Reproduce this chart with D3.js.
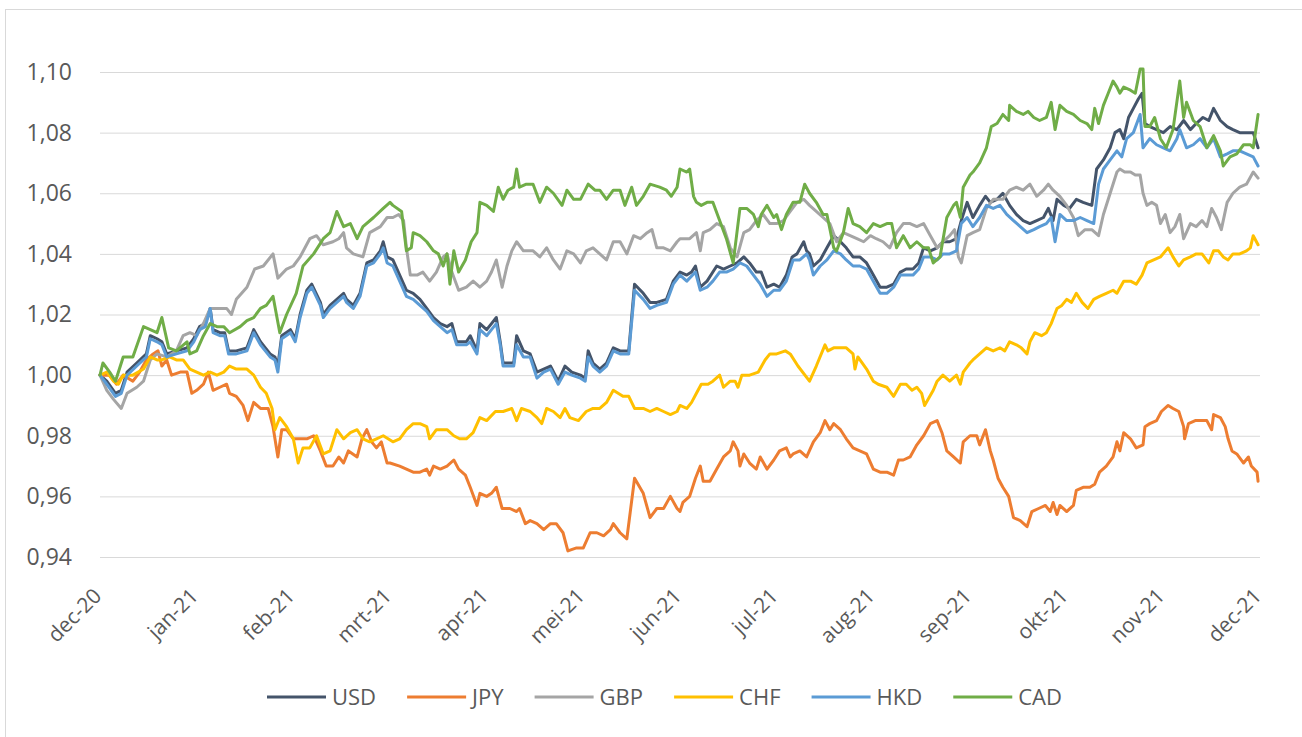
<!DOCTYPE html>
<html>
<head>
<meta charset="utf-8">
<script src="https://cdn.jsdelivr.net/npm/d3@7"></script>
<style>
  body { margin: 0; background: #fff; }
  svg { display: block; font-family: "Open Sans", "DejaVu Sans", sans-serif; }
</style>
</head>
<body>
<svg id="chart"></svg>
<script>
// months since dec-20, value index (dec-20 = 1)
var months = ["dec-20","jan-21","feb-21","mrt-21","apr-21","mei-21","jun-21","jul-21","aug-21","sep-21","okt-21","nov-21","dec-21"];
var yTicks = [0.94, 0.96, 0.98, 1.00, 1.02, 1.04, 1.06, 1.08, 1.10];
var names = ["USD","JPY","GBP","CHF","HKD","CAD"];
var colors = ["#44546A","#ED7D31","#A5A5A5","#FFC000","#5B9BD5","#70AD47"];

var usd = [[0,1.000],[0.07,0.998],[0.16,0.994],[0.22,0.995],[0.28,1.001],[0.38,1.004],[0.48,1.007],[0.52,1.013],[0.59,1.012],[0.64,1.011],[0.69,1.007],[0.79,1.008],[0.90,1.009],[0.97,1.012],[1.03,1.016],[1.09,1.017],[1.14,1.022],[1.17,1.015],[1.24,1.014],[1.29,1.014],[1.33,1.008],[1.41,1.008],[1.52,1.009],[1.59,1.015],[1.66,1.011],[1.76,1.007],[1.81,1.006],[1.84,1.003],[1.88,1.013],[1.97,1.015],[2.02,1.012],[2.07,1.020],[2.14,1.028],[2.19,1.030],[2.28,1.024],[2.31,1.020],[2.38,1.023],[2.45,1.025],[2.52,1.027],[2.55,1.025],[2.62,1.023],[2.69,1.027],[2.76,1.037],[2.83,1.038],[2.90,1.041],[2.93,1.044],[2.97,1.039],
  [3.03,1.038],[3.10,1.033],[3.17,1.028],[3.24,1.027],[3.31,1.025],[3.38,1.022],[3.45,1.019],[3.52,1.017],[3.59,1.016],[3.64,1.017],[3.69,1.011],[3.79,1.011],[3.83,1.013],[3.90,1.008],[3.93,1.017],[4.00,1.015],[4.05,1.017],[4.10,1.019],[4.14,1.011],[4.17,1.004],[4.28,1.004],[4.31,1.013],[4.38,1.008],[4.45,1.007],[4.52,1.001],[4.59,1.002],[4.66,1.003],[4.74,0.998],[4.81,1.003],[4.88,1.001],[4.97,1.000],[5.02,0.999],[5.05,1.008],[5.10,1.004],[5.17,1.002],[5.24,1.004],[5.31,1.009],[5.38,1.008],[5.47,1.008],[5.53,1.030],[5.62,1.027],[5.69,1.024],[5.76,1.024],[5.86,1.025],[5.93,1.031],
  [6.00,1.034],[6.07,1.033],[6.12,1.034],[6.16,1.036],[6.21,1.029],[6.28,1.031],[6.34,1.034],[6.38,1.036],[6.45,1.035],[6.52,1.036],[6.59,1.037],[6.66,1.039],[6.72,1.037],[6.79,1.034],[6.84,1.034],[6.90,1.029],[6.97,1.030],[7.03,1.029],[7.10,1.033],[7.16,1.039],[7.21,1.040],[7.28,1.044],[7.31,1.041],[7.34,1.040],[7.38,1.036],[7.45,1.038],[7.52,1.042],[7.59,1.046],[7.66,1.044],[7.72,1.042],[7.79,1.039],[7.86,1.039],[7.93,1.037],[8.00,1.033],[8.07,1.029],[8.14,1.029],[8.21,1.030],[8.28,1.034],[8.34,1.035],[8.41,1.035],[8.47,1.037],[8.52,1.042],[8.59,1.041],[8.66,1.042],[8.72,1.044],[8.79,1.044],[8.86,1.045],[8.91,1.051],[8.97,1.057],
  [9.03,1.052],[9.10,1.056],[9.16,1.059],[9.21,1.057],[9.28,1.058],[9.34,1.060],[9.41,1.056],[9.48,1.053],[9.55,1.051],[9.62,1.050],[9.69,1.051],[9.76,1.052],[9.81,1.055],[9.86,1.051],[9.90,1.058],[9.97,1.056],[10.03,1.055],[10.10,1.058],[10.17,1.057],[10.26,1.056],[10.31,1.068],[10.38,1.071],[10.45,1.075],[10.50,1.080],[10.55,1.081],[10.59,1.078],[10.64,1.085],[10.69,1.088],[10.74,1.091],[10.78,1.093],[10.81,1.083],[10.86,1.082],[10.93,1.081],[11.00,1.080],[11.07,1.082],[11.14,1.081],[11.21,1.084],[11.28,1.081],[11.34,1.083],[11.41,1.085],[11.47,1.084],[11.52,1.088],[11.59,1.084],[11.66,1.082],[11.72,1.081],[11.79,1.080],[11.86,1.080],[11.93,1.080],[11.98,1.075]];

var jpy = [[0,1.000],[0.10,1.000],[0.17,0.997],[0.24,1.000],[0.34,0.998],[0.41,1.001],[0.48,1.005],[0.55,1.007],[0.60,1.008],[0.64,1.003],[0.69,1.005],[0.74,1.000],[0.83,1.001],[0.90,1.001],[0.95,0.994],[1.00,0.995],[1.07,0.997],[1.12,1.001],[1.17,0.995],[1.24,0.996],[1.31,0.997],[1.34,0.994],[1.41,0.993],[1.48,0.990],[1.53,0.985],[1.59,0.991],[1.66,0.989],[1.74,0.989],[1.79,0.983],[1.84,0.973],[1.88,0.982],[1.93,0.982],[2.00,0.979],[2.07,0.979],[2.14,0.979],[2.21,0.980],[2.28,0.975],[2.34,0.970],[2.41,0.970],[2.47,0.973],[2.52,0.971],[2.57,0.975],[2.66,0.973],[2.71,0.979],[2.76,0.982],[2.81,0.978],[2.86,0.976],[2.91,0.978],[2.97,0.971],
  [3.00,0.971],[3.10,0.970],[3.17,0.969],[3.24,0.968],[3.31,0.968],[3.38,0.969],[3.41,0.967],[3.45,0.970],[3.52,0.969],[3.59,0.970],[3.66,0.972],[3.71,0.969],[3.78,0.967],[3.83,0.963],[3.90,0.957],[3.93,0.961],[4.00,0.960],[4.05,0.961],[4.10,0.963],[4.16,0.956],[4.24,0.956],[4.31,0.955],[4.34,0.956],[4.40,0.951],[4.45,0.952],[4.52,0.951],[4.59,0.949],[4.66,0.951],[4.72,0.951],[4.79,0.948],[4.84,0.942],[4.93,0.943],[5.00,0.943],[5.07,0.948],[5.14,0.948],[5.21,0.947],[5.28,0.949],[5.31,0.951],[5.38,0.948],[5.45,0.946],[5.53,0.966],[5.62,0.961],[5.69,0.953],[5.76,0.956],[5.83,0.956],[5.90,0.960],[5.97,0.956],
  [6.00,0.955],[6.03,0.958],[6.10,0.960],[6.16,0.966],[6.21,0.970],[6.24,0.965],[6.31,0.965],[6.38,0.969],[6.45,0.973],[6.52,0.975],[6.55,0.978],[6.60,0.975],[6.62,0.970],[6.66,0.974],[6.72,0.971],[6.79,0.969],[6.83,0.973],[6.90,0.969],[6.97,0.972],[7.03,0.975],[7.10,0.976],[7.14,0.973],[7.17,0.974],[7.24,0.975],[7.31,0.973],[7.38,0.978],[7.45,0.981],[7.50,0.985],[7.55,0.982],[7.59,0.984],[7.66,0.982],[7.72,0.979],[7.79,0.976],[7.86,0.975],[7.93,0.974],[8.00,0.969],[8.07,0.968],[8.14,0.968],[8.21,0.967],[8.26,0.972],[8.31,0.972],[8.38,0.973],[8.45,0.977],[8.52,0.980],[8.59,0.984],[8.66,0.985],[8.71,0.981],[8.76,0.975],[8.83,0.973],[8.90,0.971],[8.93,0.978],[9.00,0.980],
  [9.07,0.980],[9.10,0.977],[9.16,0.982],[9.21,0.975],[9.24,0.972],[9.29,0.966],[9.34,0.963],[9.40,0.960],[9.45,0.953],[9.52,0.952],[9.59,0.950],[9.64,0.955],[9.71,0.956],[9.78,0.957],[9.83,0.955],[9.86,0.958],[9.90,0.954],[9.93,0.957],[10.00,0.955],[10.07,0.957],[10.10,0.962],[10.17,0.963],[10.24,0.963],[10.29,0.964],[10.34,0.968],[10.41,0.970],[10.48,0.973],[10.52,0.978],[10.55,0.975],[10.59,0.981],[10.66,0.979],[10.72,0.976],[10.79,0.977],[10.81,0.983],[10.86,0.984],[10.93,0.985],[10.98,0.988],[11.05,0.990],[11.10,0.989],[11.16,0.988],[11.21,0.983],[11.22,0.979],[11.26,0.984],[11.33,0.985],[11.40,0.985],[11.45,0.985],[11.50,0.982],[11.52,0.987],[11.59,0.986],[11.64,0.983],[11.67,0.979],[11.71,0.975],[11.76,0.974],[11.83,0.971],[11.88,0.973],[11.91,0.970],[11.97,0.968],[11.98,0.965]];

var gbp = [[0,1.000],[0.07,0.995],[0.14,0.992],[0.22,0.989],[0.28,0.994],[0.38,0.996],[0.45,0.998],[0.52,1.005],[0.59,1.007],[0.69,1.006],[0.79,1.008],[0.86,1.013],[0.93,1.014],[1.00,1.013],[1.07,1.017],[1.14,1.022],[1.21,1.022],[1.31,1.022],[1.36,1.020],[1.41,1.025],[1.52,1.029],[1.60,1.035],[1.69,1.036],[1.79,1.040],[1.84,1.032],[1.93,1.035],[2.00,1.036],[2.07,1.039],[2.17,1.045],[2.24,1.046],[2.31,1.043],[2.41,1.044],[2.47,1.045],[2.52,1.047],[2.55,1.042],[2.62,1.040],[2.72,1.039],[2.79,1.047],[2.90,1.049],[2.97,1.052],
  [3.03,1.052],[3.09,1.053],[3.14,1.051],[3.17,1.042],[3.21,1.033],[3.28,1.033],[3.34,1.034],[3.41,1.031],[3.48,1.034],[3.55,1.039],[3.59,1.040],[3.64,1.034],[3.71,1.028],[3.79,1.029],[3.86,1.031],[3.93,1.029],[4.00,1.031],[4.05,1.034],[4.10,1.038],[4.16,1.029],[4.21,1.036],[4.26,1.041],[4.31,1.044],[4.38,1.041],[4.48,1.041],[4.55,1.039],[4.62,1.042],[4.69,1.038],[4.76,1.035],[4.83,1.041],[4.90,1.040],[4.97,1.037],[5.03,1.041],[5.10,1.042],[5.17,1.040],[5.24,1.038],[5.31,1.044],[5.38,1.044],[5.45,1.040],[5.52,1.046],[5.59,1.045],[5.66,1.047],[5.71,1.048],[5.76,1.042],[5.83,1.042],[5.90,1.041],[5.97,1.044],
  [6.00,1.045],[6.10,1.045],[6.17,1.047],[6.21,1.041],[6.24,1.047],[6.31,1.048],[6.38,1.050],[6.45,1.049],[6.52,1.042],[6.59,1.039],[6.66,1.047],[6.72,1.048],[6.79,1.051],[6.86,1.053],[6.93,1.050],[7.00,1.050],[7.07,1.051],[7.14,1.054],[7.21,1.057],[7.28,1.058],[7.34,1.056],[7.41,1.054],[7.48,1.052],[7.55,1.050],[7.62,1.044],[7.69,1.047],[7.76,1.046],[7.83,1.045],[7.90,1.044],[7.97,1.046],[8.03,1.045],[8.10,1.044],[8.17,1.042],[8.24,1.047],[8.31,1.050],[8.38,1.050],[8.45,1.049],[8.52,1.050],[8.59,1.046],[8.66,1.042],[8.72,1.044],[8.79,1.046],[8.84,1.048],[8.88,1.039],[8.91,1.037],[8.97,1.046],
  [9.03,1.047],[9.10,1.048],[9.17,1.055],[9.24,1.058],[9.34,1.058],[9.41,1.061],[9.48,1.062],[9.55,1.061],[9.62,1.063],[9.69,1.059],[9.76,1.061],[9.81,1.063],[9.86,1.061],[9.93,1.059],[10.00,1.056],[10.07,1.052],[10.12,1.046],[10.19,1.048],[10.26,1.048],[10.33,1.046],[10.38,1.053],[10.45,1.060],[10.52,1.067],[10.55,1.068],[10.60,1.067],[10.66,1.067],[10.71,1.066],[10.76,1.066],[10.79,1.060],[10.83,1.056],[10.88,1.057],[10.93,1.056],[10.97,1.050],[11.02,1.053],[11.07,1.047],[11.12,1.049],[11.17,1.053],[11.21,1.045],[11.28,1.050],[11.34,1.049],[11.40,1.051],[11.45,1.049],[11.50,1.055],[11.55,1.052],[11.60,1.048],[11.66,1.057],[11.72,1.060],[11.79,1.062],[11.86,1.063],[11.93,1.067],[11.98,1.065]];

var chf = [[0,1.000],[0.07,1.001],[0.14,0.998],[0.19,0.997],[0.24,1.000],[0.34,1.000],[0.45,1.002],[0.52,1.006],[0.59,1.005],[0.64,1.005],[0.72,1.006],[0.79,1.005],[0.86,1.005],[0.93,1.002],[1.00,1.001],[1.07,1.000],[1.14,1.001],[1.21,1.000],[1.28,1.001],[1.34,1.003],[1.41,1.002],[1.52,1.002],[1.59,1.000],[1.66,0.996],[1.72,0.994],[1.78,0.989],[1.81,0.982],[1.86,0.986],[1.93,0.983],[2.00,0.979],[2.05,0.971],[2.10,0.976],[2.17,0.976],[2.24,0.980],[2.31,0.974],[2.38,0.975],[2.45,0.982],[2.52,0.979],[2.59,0.981],[2.66,0.982],[2.72,0.979],[2.79,0.978],[2.86,0.979],[2.93,0.980],
  [3.03,0.978],[3.10,0.979],[3.17,0.982],[3.24,0.984],[3.31,0.984],[3.38,0.983],[3.41,0.979],[3.48,0.982],[3.59,0.982],[3.66,0.980],[3.72,0.979],[3.79,0.979],[3.86,0.981],[3.93,0.986],[4.00,0.985],[4.09,0.988],[4.17,0.988],[4.26,0.989],[4.31,0.985],[4.36,0.989],[4.45,0.988],[4.52,0.986],[4.57,0.984],[4.62,0.989],[4.69,0.988],[4.76,0.986],[4.81,0.989],[4.86,0.986],[4.95,0.985],[5.03,0.988],[5.10,0.989],[5.17,0.989],[5.24,0.991],[5.31,0.995],[5.36,0.994],[5.41,0.993],[5.47,0.993],[5.53,0.989],[5.62,0.989],[5.69,0.988],[5.76,0.989],[5.83,0.988],[5.90,0.987],[5.97,0.988],
  [6.00,0.990],[6.07,0.989],[6.12,0.991],[6.17,0.994],[6.22,0.997],[6.29,0.997],[6.34,0.998],[6.41,1.000],[6.45,0.996],[6.52,0.998],[6.57,0.998],[6.60,0.996],[6.64,1.000],[6.72,1.000],[6.81,1.001],[6.88,1.005],[6.93,1.007],[7.00,1.007],[7.09,1.008],[7.14,1.007],[7.22,1.003],[7.34,0.998],[7.41,1.003],[7.50,1.010],[7.53,1.008],[7.59,1.009],[7.66,1.009],[7.72,1.009],[7.79,1.007],[7.81,1.002],[7.84,1.006],[7.93,1.002],[8.00,0.998],[8.05,0.997],[8.14,0.996],[8.21,0.993],[8.28,0.997],[8.34,0.997],[8.40,0.995],[8.45,0.996],[8.50,0.994],[8.53,0.990],[8.62,0.995],[8.66,0.998],[8.72,1.000],[8.79,0.998],[8.86,1.000],[8.90,0.997],[8.93,1.001],[9.00,1.004],
  [9.03,1.005],[9.10,1.007],[9.17,1.009],[9.24,1.008],[9.31,1.009],[9.36,1.008],[9.41,1.011],[9.48,1.010],[9.53,1.009],[9.59,1.007],[9.62,1.011],[9.67,1.014],[9.74,1.013],[9.79,1.014],[9.84,1.017],[9.90,1.022],[9.95,1.023],[10.00,1.025],[10.05,1.024],[10.10,1.027],[10.16,1.024],[10.22,1.022],[10.28,1.025],[10.34,1.026],[10.41,1.027],[10.48,1.028],[10.52,1.027],[10.59,1.031],[10.66,1.031],[10.72,1.030],[10.78,1.033],[10.83,1.037],[10.90,1.038],[10.97,1.039],[11.05,1.042],[11.10,1.039],[11.16,1.036],[11.21,1.038],[11.28,1.039],[11.34,1.040],[11.40,1.040],[11.47,1.037],[11.52,1.041],[11.57,1.041],[11.62,1.039],[11.67,1.038],[11.72,1.040],[11.79,1.040],[11.86,1.041],[11.90,1.042],[11.93,1.046],[11.98,1.043]];

var hkd = [[0,1.000],[0.07,0.997],[0.16,0.993],[0.22,0.994],[0.28,1.000],[0.38,1.003],[0.48,1.006],[0.52,1.012],[0.59,1.011],[0.64,1.010],[0.69,1.006],[0.79,1.007],[0.90,1.008],[0.97,1.011],[1.03,1.015],[1.09,1.016],[1.14,1.022],[1.17,1.014],[1.24,1.013],[1.29,1.013],[1.33,1.007],[1.41,1.007],[1.52,1.008],[1.59,1.014],[1.66,1.010],[1.76,1.006],[1.81,1.005],[1.84,1.001],[1.88,1.012],[1.97,1.014],[2.02,1.011],[2.07,1.019],[2.14,1.027],[2.19,1.029],[2.28,1.023],[2.31,1.019],[2.38,1.022],[2.45,1.024],[2.52,1.026],[2.55,1.024],[2.62,1.022],[2.69,1.026],[2.76,1.036],[2.83,1.037],[2.90,1.040],[2.93,1.042],[2.97,1.037],
  [3.03,1.036],[3.10,1.031],[3.17,1.026],[3.24,1.025],[3.31,1.023],[3.38,1.021],[3.45,1.018],[3.52,1.016],[3.59,1.014],[3.64,1.015],[3.69,1.010],[3.79,1.010],[3.83,1.011],[3.90,1.007],[3.93,1.015],[4.00,1.013],[4.05,1.015],[4.10,1.017],[4.14,1.010],[4.17,1.003],[4.28,1.003],[4.31,1.010],[4.38,1.006],[4.45,1.006],[4.52,0.999],[4.59,1.001],[4.66,1.002],[4.74,0.997],[4.81,1.001],[4.88,1.000],[4.97,0.999],[5.02,0.998],[5.05,1.006],[5.10,1.003],[5.17,1.001],[5.24,1.003],[5.31,1.008],[5.38,1.007],[5.47,1.007],[5.53,1.028],[5.62,1.025],[5.69,1.022],[5.76,1.023],[5.86,1.024],[5.93,1.030],
  [6.00,1.033],[6.07,1.031],[6.16,1.034],[6.21,1.028],[6.28,1.029],[6.34,1.031],[6.41,1.034],[6.48,1.034],[6.55,1.035],[6.62,1.037],[6.69,1.036],[6.76,1.033],[6.83,1.030],[6.90,1.026],[6.97,1.028],[7.03,1.028],[7.10,1.031],[7.17,1.038],[7.24,1.038],[7.31,1.040],[7.34,1.038],[7.38,1.033],[7.45,1.036],[7.52,1.038],[7.59,1.041],[7.66,1.040],[7.72,1.038],[7.79,1.036],[7.86,1.036],[7.93,1.035],[8.00,1.031],[8.07,1.027],[8.14,1.027],[8.21,1.029],[8.28,1.033],[8.34,1.033],[8.41,1.033],[8.47,1.035],[8.52,1.039],[8.59,1.039],[8.66,1.038],[8.72,1.040],[8.79,1.040],[8.86,1.041],[8.91,1.050],[8.97,1.052],
  [9.03,1.049],[9.10,1.052],[9.17,1.056],[9.24,1.055],[9.31,1.056],[9.38,1.053],[9.45,1.051],[9.52,1.049],[9.59,1.047],[9.66,1.048],[9.72,1.049],[9.79,1.050],[9.84,1.052],[9.88,1.044],[9.93,1.053],[10.00,1.051],[10.07,1.051],[10.14,1.052],[10.21,1.051],[10.28,1.050],[10.33,1.063],[10.38,1.068],[10.45,1.071],[10.52,1.074],[10.57,1.072],[10.62,1.078],[10.69,1.080],[10.76,1.086],[10.79,1.075],[10.86,1.078],[10.93,1.076],[11.00,1.075],[11.07,1.074],[11.14,1.078],[11.17,1.081],[11.24,1.075],[11.31,1.076],[11.38,1.078],[11.45,1.075],[11.52,1.078],[11.59,1.072],[11.66,1.073],[11.72,1.074],[11.79,1.074],[11.86,1.073],[11.93,1.072],[11.98,1.069]];

var cad = [[0,1.000],[0.03,1.004],[0.10,1.001],[0.16,0.998],[0.24,1.006],[0.34,1.006],[0.45,1.016],[0.59,1.014],[0.64,1.019],[0.71,1.009],[0.79,1.008],[0.90,1.011],[0.93,1.007],[1.00,1.008],[1.07,1.013],[1.14,1.017],[1.21,1.016],[1.28,1.016],[1.34,1.014],[1.45,1.016],[1.52,1.018],[1.59,1.019],[1.66,1.022],[1.72,1.023],[1.79,1.026],[1.86,1.014],[1.93,1.020],[2.03,1.027],[2.10,1.036],[2.21,1.040],[2.31,1.045],[2.38,1.047],[2.45,1.054],[2.52,1.049],[2.59,1.050],[2.66,1.045],[2.72,1.049],[2.83,1.052],[2.93,1.055],[3.00,1.057],
  [3.03,1.056],[3.12,1.054],[3.17,1.041],[3.22,1.042],[3.24,1.047],[3.31,1.046],[3.38,1.044],[3.45,1.041],[3.50,1.040],[3.55,1.036],[3.59,1.040],[3.62,1.030],[3.66,1.041],[3.71,1.034],[3.78,1.038],[3.84,1.044],[3.90,1.047],[3.93,1.057],[4.00,1.056],[4.07,1.054],[4.12,1.062],[4.17,1.058],[4.22,1.061],[4.28,1.062],[4.31,1.068],[4.34,1.062],[4.41,1.063],[4.48,1.063],[4.55,1.057],[4.62,1.062],[4.69,1.060],[4.78,1.056],[4.83,1.061],[4.90,1.058],[4.97,1.058],[5.05,1.063],[5.12,1.061],[5.17,1.061],[5.24,1.058],[5.31,1.061],[5.38,1.061],[5.43,1.056],[5.50,1.062],[5.55,1.056],[5.62,1.059],[5.69,1.063],[5.79,1.062],[5.86,1.061],[5.91,1.059],[5.97,1.062],
  [6.00,1.068],[6.07,1.067],[6.10,1.068],[6.14,1.059],[6.17,1.057],[6.22,1.056],[6.28,1.057],[6.34,1.057],[6.41,1.051],[6.48,1.045],[6.55,1.037],[6.62,1.055],[6.69,1.055],[6.76,1.053],[6.81,1.049],[6.84,1.053],[6.90,1.056],[6.97,1.052],[7.00,1.053],[7.05,1.048],[7.10,1.053],[7.17,1.057],[7.24,1.057],[7.29,1.063],[7.34,1.060],[7.41,1.057],[7.48,1.053],[7.52,1.053],[7.59,1.042],[7.62,1.041],[7.69,1.047],[7.74,1.055],[7.79,1.050],[7.86,1.049],[7.93,1.047],[8.00,1.050],[8.07,1.049],[8.14,1.050],[8.19,1.050],[8.24,1.042],[8.31,1.046],[8.38,1.042],[8.45,1.044],[8.52,1.042],[8.57,1.042],[8.62,1.037],[8.69,1.039],[8.76,1.052],[8.83,1.056],[8.86,1.057],[8.90,1.052],[8.93,1.062],[9.00,1.066],
  [9.03,1.067],[9.10,1.070],[9.17,1.075],[9.22,1.082],[9.28,1.083],[9.34,1.086],[9.40,1.084],[9.41,1.089],[9.48,1.087],[9.55,1.086],[9.60,1.087],[9.66,1.085],[9.72,1.084],[9.79,1.085],[9.84,1.090],[9.88,1.081],[9.93,1.089],[10.00,1.087],[10.07,1.086],[10.14,1.084],[10.21,1.083],[10.26,1.081],[10.29,1.088],[10.33,1.083],[10.38,1.089],[10.43,1.093],[10.48,1.097],[10.52,1.095],[10.55,1.093],[10.59,1.095],[10.66,1.094],[10.71,1.093],[10.76,1.101],[10.79,1.101],[10.81,1.082],[10.86,1.082],[10.91,1.085],[10.97,1.078],[11.03,1.075],[11.10,1.081],[11.17,1.097],[11.21,1.085],[11.24,1.090],[11.31,1.084],[11.38,1.082],[11.45,1.075],[11.52,1.079],[11.59,1.074],[11.62,1.069],[11.69,1.072],[11.76,1.073],[11.83,1.076],[11.90,1.076],[11.93,1.075],[11.98,1.086]];

var series = [usd, jpy, gbp, chf, hkd, cad];

var W = 1302, H = 737;
var svg = d3.select("#chart").attr("width", W).attr("height", H);

// outer frame like the Excel chart area
svg.append("rect")
    .attr("x", 5.5).attr("y", 9.5)
    .attr("width", 1320).attr("height", 760)
    .attr("fill", "#fff")
    .attr("stroke", "#d9d9d9");

var x = d3.scaleLinear().domain([0, 12]).range([100, 1260]);
var y = d3.scaleLinear().domain([0.94, 1.10]).range([557, 72]);

var nl = d3.formatLocale({decimal: ",", thousands: ".", grouping: [3], currency: ["€", ""]});
var fmt = nl.format(".2f");

// y axis + gridlines
var gy = svg.append("g")
    .attr("transform", "translate(100,0)")
    .call(d3.axisLeft(y).tickValues(yTicks).tickFormat(fmt)
        .tickSizeInner(-1160).tickSizeOuter(0).tickPadding(28));
gy.select(".domain").remove();
gy.selectAll(".tick line").attr("stroke", "#d9d9d9").attr("stroke-width", 1);
gy.selectAll(".tick text")
    .attr("fill", "#595959")
    .style("font-size", "23px")
    .style("font-family", "'Open Sans', sans-serif");

// x axis labels, rotated
var gx = svg.append("g")
    .attr("transform", "translate(0,557)")
    .call(d3.axisBottom(x).tickValues(d3.range(months.length))
        .tickFormat(function(d){ return months[d]; })
        .tickSize(0).tickPadding(0));
gx.select(".domain").remove();
gx.selectAll(".tick text")
    .attr("fill", "#595959")
    .style("font-size", "21px")
    .style("font-family", "'Open Sans', sans-serif")
    .attr("text-anchor", "end")
    .attr("dy", "0.35em")
    .attr("transform", "translate(-3,35) rotate(-45)");

// lines
var line = d3.line()
    .x(function(d){ return x(d[0]); })
    .y(function(d){ return y(d[1]); });

svg.append("g").selectAll("path")
    .data(series)
    .join("path")
    .attr("d", line)
    .attr("fill", "none")
    .attr("stroke", function(d, i){ return colors[i]; })
    .attr("stroke-width", 3)
    .attr("stroke-linejoin", "round")
    .attr("stroke-linecap", "round");

// legend
var legend = svg.append("g").attr("transform", "translate(0,697)");
var items = legend.selectAll("g").data(names).join("g");
items.append("line")
    .attr("x1", 0).attr("x2", 59)
    .attr("stroke", function(d, i){ return colors[i]; })
    .attr("stroke-width", 3);
items.append("text")
    .attr("x", 65).attr("dy", "0.35em")
    .attr("fill", "#595959")
    .style("font-size", "22px")
    .style("font-family", "'Open Sans', sans-serif")
    .text(function(d){ return d; });

// spread the items over the same width as the original legend
var widths = [];
items.each(function(){
    widths.push(65 + d3.select(this).select("text").node().getComputedTextLength());
});
var legendLeft = 267, legendRight = 1062;
var gap = (legendRight - legendLeft - d3.sum(widths)) / (names.length - 1);
var offs = [], pos = legendLeft;
widths.forEach(function(w){ offs.push(pos); pos += w + gap; });
items.attr("transform", function(d, i){ return "translate(" + offs[i] + ",0)"; });
</script>
</body>
</html>
